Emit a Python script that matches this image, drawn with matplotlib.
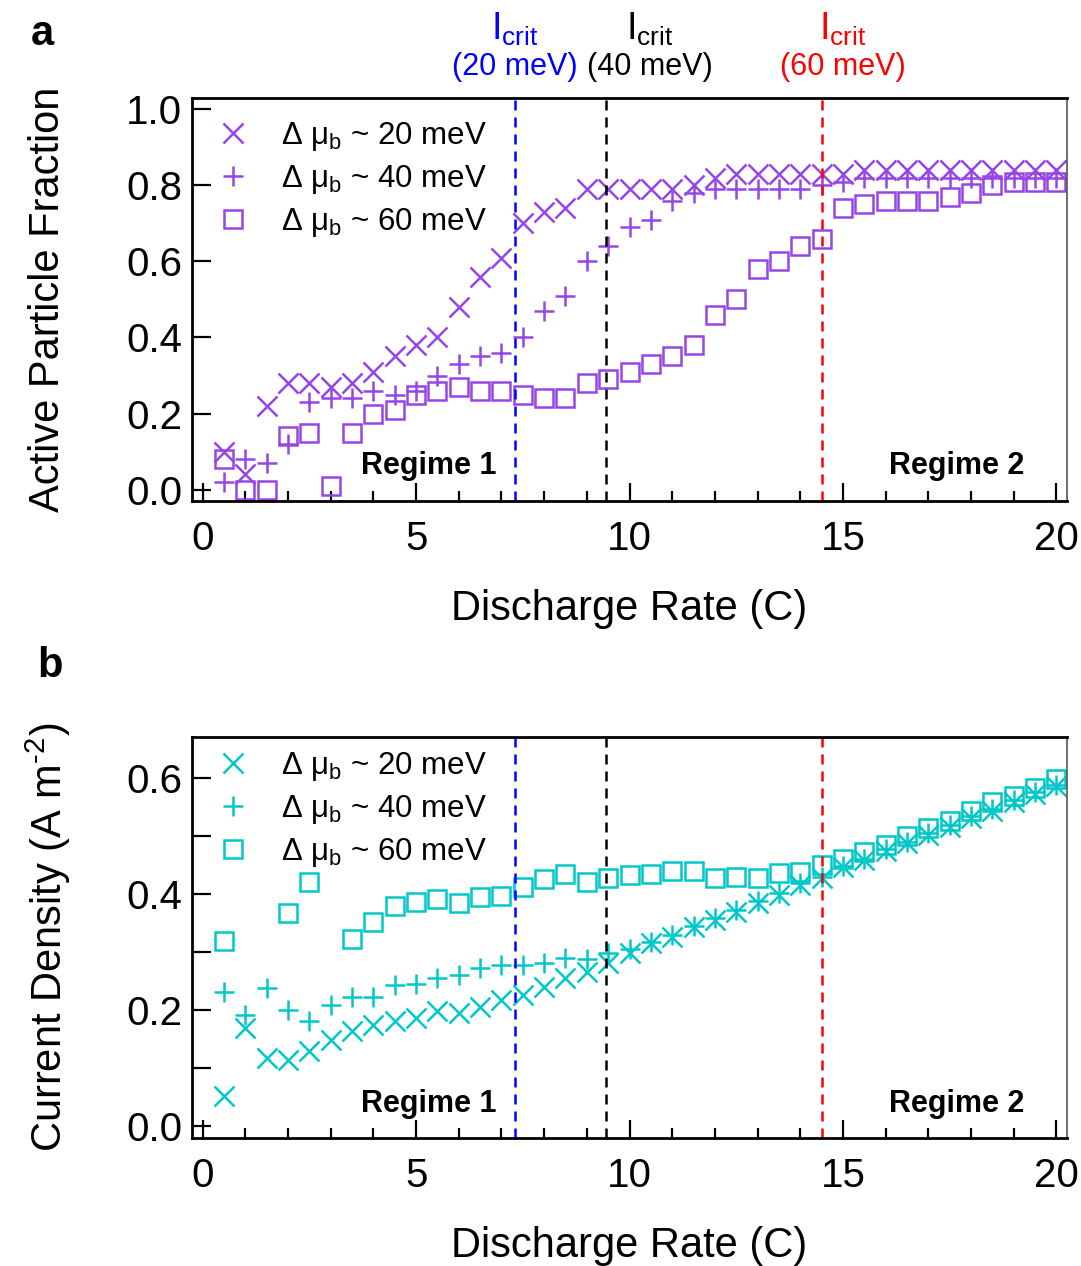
"""Active particle fraction and current density versus discharge rate."""
import matplotlib.pyplot as plt
import numpy as np

plt.rcParams['font.family'] = ['Liberation Sans', 'DejaVu Sans']
plt.rcParams['mathtext.fontset'] = 'custom'
plt.rcParams['mathtext.rm'] = 'Liberation Sans'
plt.rcParams['mathtext.it'] = 'Liberation Sans:italic'

PURPLE = '#9645e6'
CYAN = '#00c8c8'

rate = np.arange(0.5, 20.01, 0.5)  # discharge rate (C)

# active particle fraction, panel a
apf_20 = [0.10, 0.04, 0.22, 0.28, 0.28, 0.27, 0.28, 0.31, 0.35, 0.38,
          0.40, 0.48, 0.56, 0.61, 0.70, 0.73, 0.74, 0.79, 0.79, 0.79,
          0.79, 0.79, 0.80, 0.82, 0.83, 0.83, 0.83, 0.83, 0.83, 0.83,
          0.84, 0.84, 0.84, 0.84, 0.84, 0.84, 0.84, 0.84, 0.84, 0.84]
apf_40 = [0.02, 0.08, 0.07, 0.12, 0.23, 0.24, 0.24, 0.26, 0.25, 0.26,
          0.30, 0.33, 0.35, 0.36, 0.40, 0.47, 0.51, 0.60, 0.64, 0.69,
          0.71, 0.76, 0.78, 0.79, 0.79, 0.79, 0.79, 0.79, 0.80, 0.81,
          0.82, 0.82, 0.82, 0.82, 0.82, 0.82, 0.82, 0.82, 0.82, 0.82]
apf_60 = [0.08, 0.00, 0.00, 0.14, 0.15, 0.01, 0.15, 0.20, 0.21, 0.25,
          0.26, 0.27, 0.26, 0.26, 0.25, 0.24, 0.24, 0.28, 0.29, 0.31,
          0.33, 0.35, 0.38, 0.46, 0.50, 0.58, 0.60, 0.64, 0.66, 0.74,
          0.75, 0.76, 0.76, 0.76, 0.77, 0.78, 0.80, 0.81, 0.81, 0.81]

# current density (A m^-2), panel b
cd_20 = [0.053, 0.170, 0.118, 0.115, 0.129, 0.149, 0.165, 0.175, 0.182, 0.187,
         0.198, 0.195, 0.206, 0.218, 0.226, 0.240, 0.255, 0.266, 0.281, 0.298,
         0.315, 0.326, 0.343, 0.355, 0.369, 0.385, 0.398, 0.415, 0.427, 0.446,
         0.458, 0.474, 0.487, 0.502, 0.515, 0.531, 0.543, 0.559, 0.572, 0.586]
cd_40 = [0.232, 0.192, 0.238, 0.200, 0.182, 0.209, 0.223, 0.223, 0.243, 0.245,
         0.255, 0.261, 0.272, 0.278, 0.278, 0.281, 0.290, 0.288, 0.299, 0.305,
         0.318, 0.329, 0.345, 0.358, 0.372, 0.388, 0.402, 0.418, 0.430, 0.448,
         0.461, 0.477, 0.490, 0.505, 0.518, 0.534, 0.546, 0.562, 0.575, 0.588]
cd_60 = [0.319, np.nan, np.nan, 0.367, 0.420, np.nan, 0.322, 0.351, 0.379, 0.386,
         0.391, 0.384, 0.395, 0.397, 0.412, 0.425, 0.434, 0.420, 0.427, 0.432,
         0.434, 0.440, 0.440, 0.427, 0.429, 0.427, 0.436, 0.438, 0.449, 0.461,
         0.472, 0.485, 0.499, 0.513, 0.525, 0.543, 0.558, 0.569, 0.583, 0.598]

labels = ['Δ μ$_{\\rm b}$ ~ 20 meV', 'Δ μ$_{\\rm b}$ ~ 40 meV',
          'Δ μ$_{\\rm b}$ ~ 60 meV']
i_crit = [7.31, 9.46, 14.52]
crit_colors = ['#0000ff', 'black', '#ff0000']
crit_text = ['(20 meV)', '(40 meV)', '(60 meV)']
crit_text_x = [7.31, 10.47, 14.99]

fig = plt.figure(figsize=(10.81, 12.66), dpi=100)
ax1 = fig.add_axes([0.1776, 0.6043, 0.8095, 0.3183])
ax2 = fig.add_axes([0.1776, 0.1011, 0.8095, 0.3167])


def draw(ax, ys, color, legend_top):
    kw = dict(linestyle='none', color=color, markeredgewidth=1.8)
    ax.plot(rate, ys[0], marker='x', markersize=15, label=labels[0], **kw)
    ax.plot(rate, ys[1], marker='+', markersize=15, label=labels[1], **kw)
    ax.plot(rate, ys[2], marker='s', markersize=13, markerfacecolor='none',
            label=labels[2], **kw)
    for xc, c in zip(i_crit, crit_colors):
        ax.axvline(xc, color=c, lw=1.8, linestyle=(0, (4, 2.8)))
    ax.set_xlim(-0.25, 20.25)
    ax.set_xticks([0, 5, 10, 15, 20])
    ax.set_xticks(np.arange(0, 21, 1), minor=True)
    ax.tick_params(axis='x', which='major', direction='in', length=13,
                   width=1.6, labelsize=29, pad=14)
    ax.tick_params(axis='x', which='minor', direction='in', length=7,
                   width=1.6)
    ax.tick_params(axis='y', which='both', direction='in', length=14,
                   width=1.6, labelsize=29, pad=7)
    for s in ax.spines.values():
        s.set_linewidth(2)
    ax.spines['right'].set_linewidth(1.2)
    ax.spines['right'].set_color('#555555')
    ax.set_xlabel('Discharge Rate (C)', fontsize=30, labelpad=22)
    ax.legend(loc='upper left', bbox_to_anchor=(0.0, legend_top),
              frameon=False, fontsize=22.5, handlelength=1.2,
              handletextpad=0.95, labelspacing=0.32, borderaxespad=0.3,
              borderpad=0.4)
    for xt, t in [(0.27, 'Regime 1'), (0.874, 'Regime 2')]:
        ax.text(xt, 0.086, t, transform=ax.transAxes, fontsize=22,
                fontweight='bold', ha='center', va='center')


draw(ax1, [apf_20, apf_40, apf_60], PURPLE, 1.0)
ax1.set_ylim(-0.03, 1.03)
ax1.set_yticks(np.arange(0, 1.01, 0.2))
ax1.set_yticklabels(['0.0', '0.2', '0.4', '0.6', '0.8', '1.0'])
ax1.set_ylabel('Active Particle Fraction', fontsize=30, labelpad=42)

draw(ax2, [cd_20, cd_40, cd_60], CYAN, 1.022)
ax2.set_ylim(-0.02, 0.67)
ax2.set_yticks([0.0, 0.2, 0.4, 0.6])
ax2.set_yticklabels(['0.0', '0.2', '0.4', '0.6'])
ax2.set_yticks([0.1, 0.3, 0.5], minor=True)
ax2.set_ylabel('Current Density (A m$^{\\text{-2}}$)', fontsize=30,
               labelpad=38)

# critical current annotations above panel a
trans = ax1.get_xaxis_transform()
for xt, c, t in zip(crit_text_x, crit_colors, crit_text):
    ax1.text(xt, 1.17, 'I$_{\\rm crit}$', transform=trans, color=c,
             fontsize=27, ha='center', va='center')
    ax1.text(xt, 1.077, t, transform=trans, color=c, fontsize=22,
             ha='center', va='center')

fig.text(0.039, 0.973, 'a', fontsize=30, fontweight='bold',
         ha='center', va='center')
fig.text(0.046, 0.474, 'b', fontsize=30, fontweight='bold',
         ha='center', va='center')

fig.savefig('out.png', dpi=100)
